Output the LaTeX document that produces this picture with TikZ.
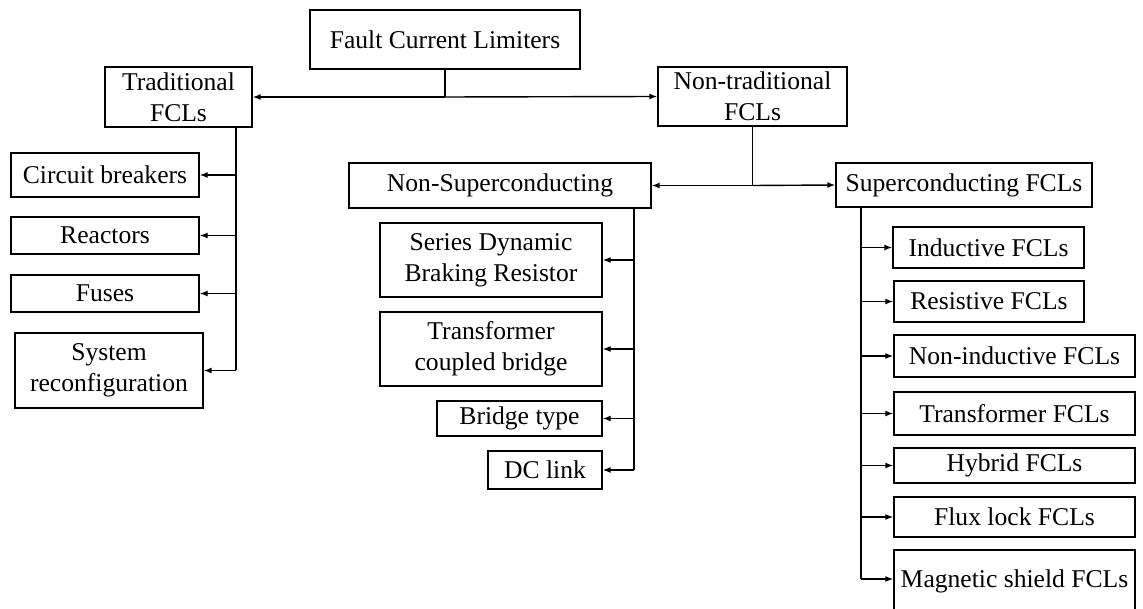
\documentclass[tikz,border=0pt]{standalone}
\usepackage{fontspec}
\setmainfont{Liberation Serif}
\usetikzlibrary{arrows.meta}

\begin{document}
\begin{tikzpicture}[x=1pt, y=-1pt, >={Latex[length=8pt,width=6pt]}, line width=1.4pt,
  every node/.style={font=\fontsize{25.6}{31}\selectfont},
  box/.style={draw, inner sep=0pt, align=center}]
\useasboundingbox (0,0) rectangle (1143,609);
% top level
\node[box,minimum width=270,minimum height=59] (fcl) at (445,39.5) {Fault Current Limiters};
\node[box,minimum width=147,minimum height=60] (trad) at (178.5,97) {Traditional\\FCLs};
\node[box,minimum width=189,minimum height=59] (nontrad) at (752.5,96.5) {Non-traditional\\FCLs};
% traditional branch
\node[box,minimum width=188,minimum height=44] (cb) at (105,175) {Circuit breakers};
\node[box,minimum width=188,minimum height=37] (reac) at (105,235.5) {Reactors};
\node[box,minimum width=188,minimum height=37] (fuse) at (105,293.5) {Fuses};
\node[box,minimum width=188,minimum height=75] (sysrec) at (109,370.5) {System\\reconfiguration};
% non-traditional branch
\node[box,minimum width=302,minimum height=45] (nonsc) at (500,185.5) {Non-Superconducting};
\node[box,minimum width=256,minimum height=44] (sc) at (964,185) {Superconducting FCLs};
\node[box,minimum width=222,minimum height=74] (sdbr) at (491,260) {Series Dynamic\\Braking Resistor};
\node[box,minimum width=222,minimum height=74] (tcb) at (491,349) {Transformer\\coupled bridge};
\node[box,minimum width=165,minimum height=35] (bridge) at (519.5,418.5) {Bridge type};
\node[box,minimum width=114,minimum height=38] (dclink) at (545,470) {DC link};
\node[box,minimum width=191,minimum height=41] (ind) at (988.5,247.5) {Inductive FCLs};
\node[box,minimum width=190,minimum height=41] (res) at (989,301.5) {Resistive FCLs};
\node[box,minimum width=241,minimum height=42] (nonind) at (1014.5,356) {Non-inductive FCLs};
\node[box,minimum width=241,minimum height=43] (trafo) at (1014.5,413.5) {Transformer FCLs};
\node[box,minimum width=241,minimum height=35] (hyb) at (1014.5,465.5) {Hybrid FCLs};
\node[box,minimum width=241,minimum height=40] (flux) at (1014.5,517) {Flux lock FCLs};
\node[box,minimum width=241,minimum height=62] (magsh) at (1014.5,581) {Magnetic shield FCLs};

% connectors
\coordinate (j1) at (fcl.south |- trad.east);
\draw (fcl.south) -- (j1);
\draw[->] (j1) -- (trad.east);
\draw[->] (j1) -- (nontrad.west);

\coordinate (tstem) at (236,127);
\draw (tstem) -- (tstem |- sysrec.east);
\foreach \n in {cb,reac,fuse,sysrec}
  \draw[->] (tstem |- \n.east) -- (\n.east);

\coordinate (j2) at (nontrad.south |- nonsc.east);
\draw (nontrad.south) -- (j2);
\draw[->] (j2) -- (nonsc.east);
\draw[->] (j2) -- (sc.west);

\coordinate (nstem) at (634,208);
\draw (nstem) -- (nstem |- dclink.east);
\foreach \n in {sdbr,tcb,bridge,dclink}
  \draw[->] (nstem |- \n.east) -- (\n.east);

\coordinate (sstem) at (861,207);
\draw (sstem) -- (861,579);
\foreach \n in {ind,res,nonind,trafo,hyb,flux}
  \draw[->] (sstem |- \n.west) -- (\n.west);
\draw[->] (861,579) -- (magsh.west |- 861,579);
\end{tikzpicture}
\end{document}
